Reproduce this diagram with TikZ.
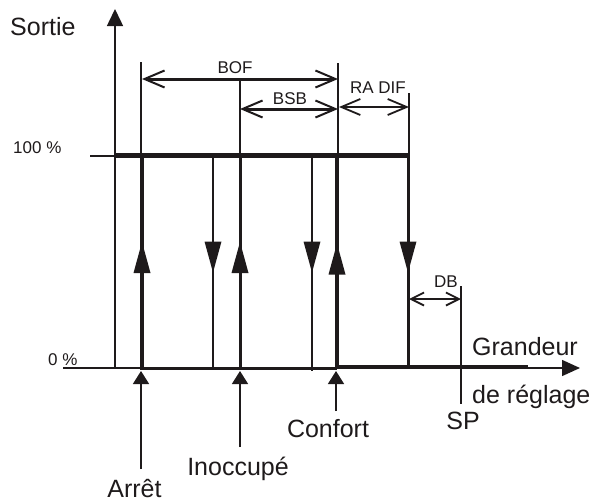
\documentclass[tikz,border=0pt]{standalone}
\usepackage{fontspec}
\setmainfont{Liberation Sans}
\usetikzlibrary{arrows.meta}
\definecolor{ink}{RGB}{30,26,27}
\begin{document}
\begin{tikzpicture}[x=1pt,y=-1pt, color=ink,
  big/.style={font=\fontsize{25}{28}\selectfont, inner sep=0pt, text=ink},
  small/.style={font=\fontsize{17}{20}\selectfont, inner sep=0pt, text=ink},
  thinline/.style={line width=1.5pt},
  dimline/.style={line width=3pt,{Straight Barb[length=20pt,width=17pt,line width=2pt]}-{Straight Barb[length=20pt,width=17pt,line width=2pt]}},
  radline/.style={line width=2.6pt,{Straight Barb[length=19pt,width=16pt,line width=1.8pt]}-{Straight Barb[length=19pt,width=16pt,line width=1.8pt]}},
  dbline/.style={line width=2.6pt,{Straight Barb[length=13pt,width=13pt,line width=1.8pt]}-{Straight Barb[length=13pt,width=13pt,line width=1.8pt]}},
  pointer/.style={thinline,-{Triangle[length=13pt,width=16pt]}},
  uptri/.pic={\fill[ink] (-8.5,15.5) -- (0,-15.5) -- (8.5,15.5) -- cycle;},
  downtri/.pic={\fill[ink] (-8.5,-15.5) -- (0,15.5) -- (8.5,-15.5) -- cycle;}
]
\useasboundingbox (0,0) rectangle (595,501);

% axes
\draw[thinline,-{Triangle[length=17pt,width=16pt]}] (115,368) -- (115,9);
\draw[thinline,-{Triangle[length=18pt,width=16pt]}] (63,368) -- (580,368);
\draw[thinline] (90,156) -- (115,156);

% 100% line
\draw[line width=5pt] (115,155) -- (410,155);

% vertical transition lines
\draw[line width=4pt] (142,155) -- (142,368);
\draw[line width=2pt] (213,155) -- (213,368);
\draw[line width=3pt] (240,155) -- (240,368);
\draw[line width=2pt] (312,155) -- (312,370.5);
\draw[line width=4pt] (337,155) -- (337,368);
\draw[line width=3pt] (408,155) -- (408,367);

% bottom line (0%)
\draw[line width=3pt] (140,368) -- (337,368);
\draw[line width=4pt] (337,367) -- (528,367);

% mid arrowheads
\pic at (142,257.5) {uptri};
\pic at (213,257) {downtri};
\pic at (240,257.5) {uptri};
\pic at (312,257) {downtri};
\pic at (337,259) {uptri};
\pic at (408,257) {downtri};

% extension lines
\draw[thinline] (141,62) -- (141,155);
\draw[thinline] (240,78) -- (240,155);
\draw[thinline] (338,63) -- (338,155);
\draw[thinline] (409,93) -- (409,155);
\draw[thinline] (461,286) -- (461,404);

% dimension arrows
\coordinate (bofL) at (142,79);  \coordinate (bofR) at (338,79);
\coordinate (bsbL) at (240,109); \coordinate (bsbR) at (338,109);
\coordinate (radL) at (339,107); \coordinate (radR) at (409,107);
\coordinate (dbL)  at (409,299); \coordinate (dbR)  at (461,299);
\draw[dimline] (bofL) -- (bofR);
\draw[dimline] (bsbL) -- (bsbR);
\draw[radline] (radL) -- (radR);
\draw[dbline] (dbL) -- (dbR);

% labels
\node[big, anchor=base west] (sortie) at (10,35) {Sortie};
\node[small, anchor=base west] (p100) at (13,153) {100 \%};
\node[small, anchor=base west] (p0) at (48,365) {0 \%};
\node[small, anchor=base] (bof) at (235,73) {BOF};
\node[small, anchor=base] (bsb) at (290,104) {BSB};
\node[small, anchor=base] (radif) at (378,93) {RA DIF};
\node[small, anchor=base] (db) at (446,287) {DB};
\node[big, anchor=base west] (grandeur) at (472,355) {Grandeur};
\node[big, anchor=base west] (reglage) at (472,403) {de réglage};
\node[big, anchor=base] (sp) at (463,429) {SP};
\node[big, anchor=base] (confort) at (328,437) {Confort};
\node[big, anchor=base] (inocc) at (238,475) {Inoccupé};
\node[big, anchor=base] (arret) at (134.5,497) {Arrêt};

% pointer arrows
\coordinate (arretTop) at (141,371);
\coordinate (inoccTop) at (240,371);
\coordinate (confTop) at (336,371);
\coordinate (arretBot) at (141,469);
\coordinate (inoccBot) at (240,447);
\coordinate (confBot) at (336,411);
\draw[pointer] (arretBot) -- (arretTop);
\draw[pointer] (inoccBot) -- (inoccTop);
\draw[pointer] (confBot) -- (confTop);
\end{tikzpicture}
\end{document}
